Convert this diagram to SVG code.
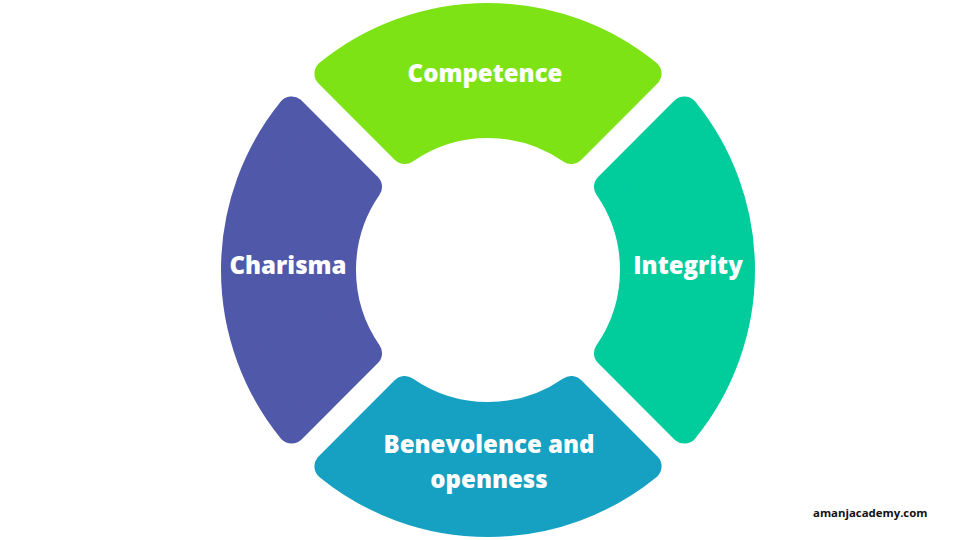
<svg xmlns="http://www.w3.org/2000/svg" width="960" height="540" viewBox="0 0 960 540">
  <style>
    .seg { stroke-width: 28; stroke-linejoin: round; }
    .lbl { font-family: "Open Sans", "Noto Sans", "Liberation Sans", sans-serif; font-weight: 800; font-size: 24px; fill: #ffffff; text-anchor: middle; }
    .credit { font-family: "Open Sans", "Liberation Sans", sans-serif; font-weight: 700; font-size: 11.4px; fill: #111111; }
  </style>
  <defs>
    <path id="segShape" d="M 328.43 73.66 A 253 253 0 0 1 647.57 73.66 L 571.2 150.03 A 146 146 0 0 0 404.8 150.03 Z"/>
  </defs>
  <rect width="960" height="540" fill="#ffffff"/>
  <g id="competence">
    <use href="#segShape" class="seg" fill="#7ee314" stroke="#7ee314"/>
    <text class="lbl" x="485" y="82">Competence</text>
  </g>
  <g id="integrity">
    <use href="#segShape" class="seg" fill="#00cc9c" stroke="#00cc9c" transform="rotate(90 488 270)"/>
    <text class="lbl" x="688" y="274">Integrity</text>
  </g>
  <g id="benevolence">
    <use href="#segShape" class="seg" fill="#16a0c2" stroke="#16a0c2" transform="rotate(180 488 270)"/>
    <text class="lbl" x="489" y="453">Benevolence and</text>
    <text class="lbl" x="489" y="488">openness</text>
  </g>
  <g id="charisma">
    <use href="#segShape" class="seg" fill="#5058aa" stroke="#5058aa" transform="rotate(270 488 270)"/>
    <text class="lbl" x="288" y="274">Charisma</text>
  </g>
  <g id="connectors"/>
  <text class="credit" x="813" y="517">amanjacademy.com</text>
</svg>
